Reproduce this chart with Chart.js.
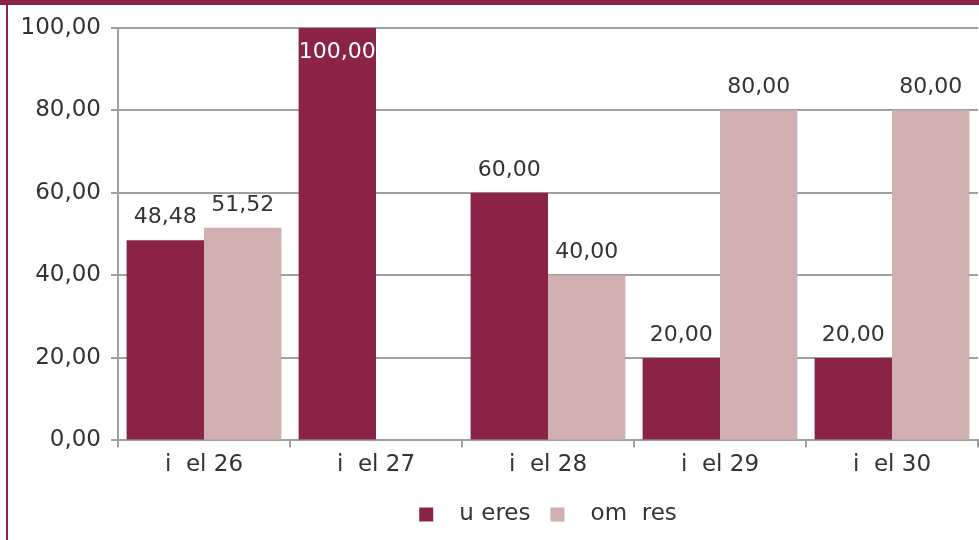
<!DOCTYPE html>
<html lang="es">
<head>
    <meta charset="UTF-8">
    <title>Nivel</title>
    <script src="https://cdnjs.cloudflare.com/ajax/libs/Chart.js/4.4.0/chart.umd.min.js"></script>
    <style>
        html, body {
            margin: 0;
            padding: 0;
            background: #fff;
        }
        .frame {
            position: relative;
            width: 979px;
            height: 540px;
            overflow: hidden;
        }
        .top-band {
            position: absolute;
            left: 0; top: 0;
            width: 979px; height: 5px;
            background: #8a2346;
        }
        .left-line {
            position: absolute;
            left: 6px; top: 0;
            width: 2px; height: 540px;
            background: #8a2346;
        }
        canvas {
            position: absolute;
            left: 0; top: 4px;
        }
    </style>
</head>
<body>
    <div class="frame">
        <canvas id="chart" width="979" height="536"></canvas>
        <div class="top-band"></div>
        <div class="left-line"></div>
    </div>

    <script>
        // Values
        const categories = ["i  el 26", "i  el 27", "i  el 28", "i  el 29", "i  el 30"];
        const mujeres = [48.48, 100, 60, 20, 20];
        const hombres = [51.52, null, 40, 80, 80];
        const seriesNames = ["  u eres", "  om  res"];

        const fmt = v => v.toFixed(2).replace(".", ",");

        // simple value labels above each bar
        const valueLabels = {
            id: "valueLabels",
            afterDatasetsDraw(chart) {
                const ctx = chart.ctx;
                ctx.save();
                ctx.font = "22px 'DejaVu Sans'";
                ctx.textAlign = "center";
                ctx.textBaseline = "bottom";
                chart.data.datasets.forEach((ds, i) => {
                    chart.getDatasetMeta(i).data.forEach((bar, j) => {
                        const v = ds.data[j];
                        if (v == null) return;
                        if (v >= 100) {
                            ctx.fillStyle = "#ffffff";
                            ctx.fillText(fmt(v), bar.x, bar.y + 35);
                        } else {
                            ctx.fillStyle = "#333333";
                            ctx.fillText(fmt(v), bar.x, bar.y - 12);
                        }
                    });
                });
                ctx.restore();
            }
        };

        new Chart(document.getElementById("chart"), {
            type: "bar",
            data: {
                labels: categories,
                datasets: [
                    { label: seriesNames[0], data: mujeres, backgroundColor: "#8a2346" },
                    { label: seriesNames[1], data: hombres, backgroundColor: "#d0afb0" }
                ]
            },
            options: {
                responsive: false,
                animation: false,
                layout: { padding: { left: 0, right: 1, top: 20, bottom: 4 } },
                datasets: { bar: { categoryPercentage: 0.9, barPercentage: 1.0 } },
                scales: {
                    x: {
                        grid: { drawOnChartArea: false, color: "#a0a0a0", lineWidth: 2, tickLength: 7 },
                        border: { color: "#a0a0a0", width: 2 },
                        ticks: { color: "#333333", font: { family: "DejaVu Sans", size: 23 }, padding: 4 }
                    },
                    y: {
                        min: 0, max: 100,
                        afterFit: scale => { scale.width = 118; },
                        grid: { color: "#a0a0a0", lineWidth: 2, tickLength: 7 },
                        border: { color: "#a0a0a0", width: 2 },
                        ticks: {
                            stepSize: 20,
                            color: "#333333",
                            font: { family: "DejaVu Sans", size: 23 },
                            padding: 10,
                            callback: v => fmt(v)
                        }
                    }
                },
                plugins: {
                    legend: {
                        position: "bottom",
                        fullSize: false,
                        labels: {
                            color: "#333333",
                            font: { family: "DejaVu Sans", size: 23 },
                            boxWidth: 14, boxHeight: 14, padding: 20
                        }
                    },
                    tooltip: { enabled: false }
                }
            },
            plugins: [valueLabels]
        });
    </script>
</body>
</html>
